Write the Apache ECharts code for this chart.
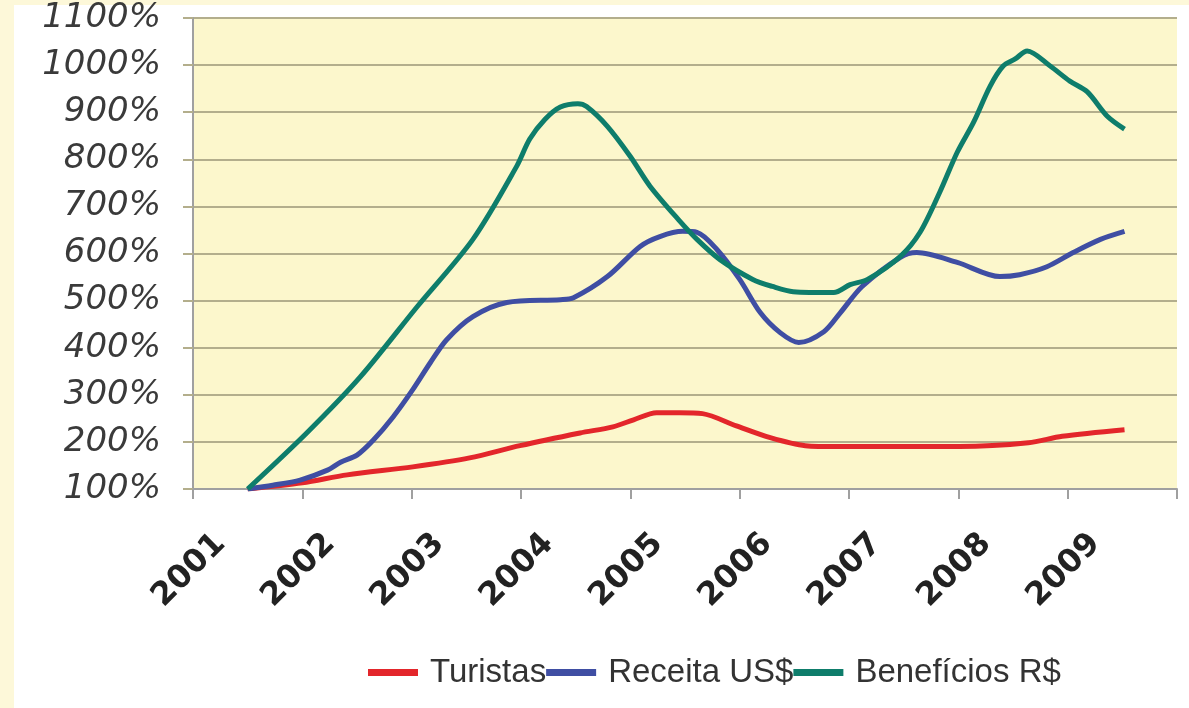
<!DOCTYPE html>
<html>
<head>
<meta charset="utf-8">
<script src="https://cdn.jsdelivr.net/npm/echarts@6/dist/echarts.min.js"></script>
<style>
html,body{margin:0;padding:0;background:#fdf8d9;width:1189px;height:708px;overflow:hidden;}
#panel{position:absolute;left:14px;top:5px;right:0;bottom:0;background:#ffffff;}
#chart{position:absolute;left:0;top:0;width:1189px;height:708px;}
</style>
</head>
<body>
<div id="panel"></div>
<div id="chart"></div>
<script>
// Category labels (years)
const years = ['2001','2002','2003','2004','2005','2006','2007','2008','2009'];
// Y tick range
const yMin = 100, yMax = 1100, yStep = 100;

// Turistas (time in fractional years, value in %)
const turistasT = [2001.5,2002.0,2002.41,2003.01,2003.53,2003.99,2004.54,2004.84,2005.03,2005.24,2005.45,2005.66,2005.97,2006.28,2006.6,2006.9,2007.5,2008.01,2008.64,2008.95,2009.52];
const turistasV = [100,113,130,147,166,192,219,232,247,262,262,260,234,209,192,190,190,190,198,212,226];

// Receita US$
const receitaT = [2001.5,2001.73,2001.98,2002.23,2002.35,2002.5,2002.65,2002.83,2003.01,2003.17,2003.32,2003.56,2003.87,2004.36,2004.48,2004.79,2005.09,2005.27,2005.48,2005.61,2005.79,2006.0,2006.19,2006.37,2006.54,2006.77,2006.92,2007.12,2007.47,2007.62,2007.99,2008.38,2008.56,2008.81,2009.05,2009.3,2009.52];
const receitaV = [100,108,119,140,157,172,204,253,311,368,417,466,496,502,506,551,615,636,647,645,609,545,474,432,411,434,474,530,592,602,581,551,555,572,602,630,647];

// Benefícios R$
const beneficiosT = [2001.5,2002.04,2002.53,2003.05,2003.56,2003.96,2004.08,2004.22,2004.36,2004.52,2004.6,2004.79,2005.0,2005.18,2005.44,2005.61,2005.82,2006.12,2006.3,2006.49,2006.86,2007.01,2007.17,2007.47,2007.65,2007.83,2007.99,2008.14,2008.29,2008.41,2008.52,2008.63,2008.84,2009.02,2009.18,2009.36,2009.52];
const beneficiosV = [100,219,338,487,630,785,843,885,911,918,912,870,806,743,672,630,587,545,530,519,517,534,545,594,645,730,815,879,955,998,1013,1030,998,966,943,892,864];

function pairs(t, v){ return t.map((x,i)=>[x, v[i]]); }

const chart = echarts.init(document.getElementById('chart'), null, {renderer:'canvas'});
const gridLine = '#b3ae8c';
const axisGray = '#a0a0a0';
const labelShift = 27;

chart.setOption({
  animation:false,
  backgroundColor:'transparent',
  grid:[
    {left:193, right:12, top:18, bottom:219, show:true, backgroundColor:'#fcf7cc', borderWidth:0},
    {left:193-labelShift, right:12+labelShift, top:18, bottom:219, show:false}
  ],
  xAxis:[
    {type:'value', gridIndex:0, min:2001, max:2010, interval:1,
     axisLine:{show:true, lineStyle:{color:axisGray, width:2}},
     axisTick:{show:true, length:10, lineStyle:{color:axisGray, width:2}},
     axisLabel:{show:false}, splitLine:{show:false}},
    {type:'category', gridIndex:1, data:years, boundaryGap:true,
     axisLine:{show:false}, axisTick:{show:false}, splitLine:{show:false},
     axisLabel:{show:true, rotate:45, margin:50, interval:0,
       fontFamily:'DejaVu Sans', fontWeight:'bold', fontSize:32, color:'#222222'}}
  ],
  yAxis:[
    {type:'value', gridIndex:0, min:yMin, max:yMax, interval:yStep,
     axisLine:{show:true, lineStyle:{color:axisGray, width:2}},
     axisTick:{show:true, length:10, lineStyle:{color:gridLine, width:2}},
     axisLabel:{formatter:function(v){return v + '%';}, margin:32, fontFamily:'DejaVu Sans', fontStyle:'italic',
       fontSize:34, color:'#3a3a3a', padding:[10,0,0,0]},
     splitLine:{show:true, lineStyle:{color:gridLine, width:2}}},
    {type:'value', gridIndex:1, min:yMin, max:yMax, show:false}
  ],
  legend:{
    left:368, top:656, padding:0, itemWidth:50, itemHeight:7, itemGap:0, icon:'rect',
    textStyle:{fontFamily:'Liberation Sans', fontSize:33, color:'#333333', padding:[0,0,0,7]},
    data:['Turistas','Receita US$','Benefícios R$']
  },
  series:[
    {name:'Turistas', type:'line', xAxisIndex:0, yAxisIndex:0, data:pairs(turistasT, turistasV),
     showSymbol:false, symbol:'none', smooth:0.3, lineStyle:{width:5, color:'#e3262b'}, itemStyle:{color:'#e3262b'}, z:3},
    {name:'Receita US$', type:'line', xAxisIndex:0, yAxisIndex:0, data:pairs(receitaT, receitaV),
     showSymbol:false, symbol:'none', smooth:0.3, lineStyle:{width:5, color:'#3f4ea3'}, itemStyle:{color:'#3f4ea3'}, z:4},
    {name:'Benefícios R$', type:'line', xAxisIndex:0, yAxisIndex:0, data:pairs(beneficiosT, beneficiosV),
     showSymbol:false, symbol:'none', smooth:0.3, lineStyle:{width:5, color:'#0e7d6b'}, itemStyle:{color:'#0e7d6b'}, z:5}
  ]
});
</script>
</body>
</html>
